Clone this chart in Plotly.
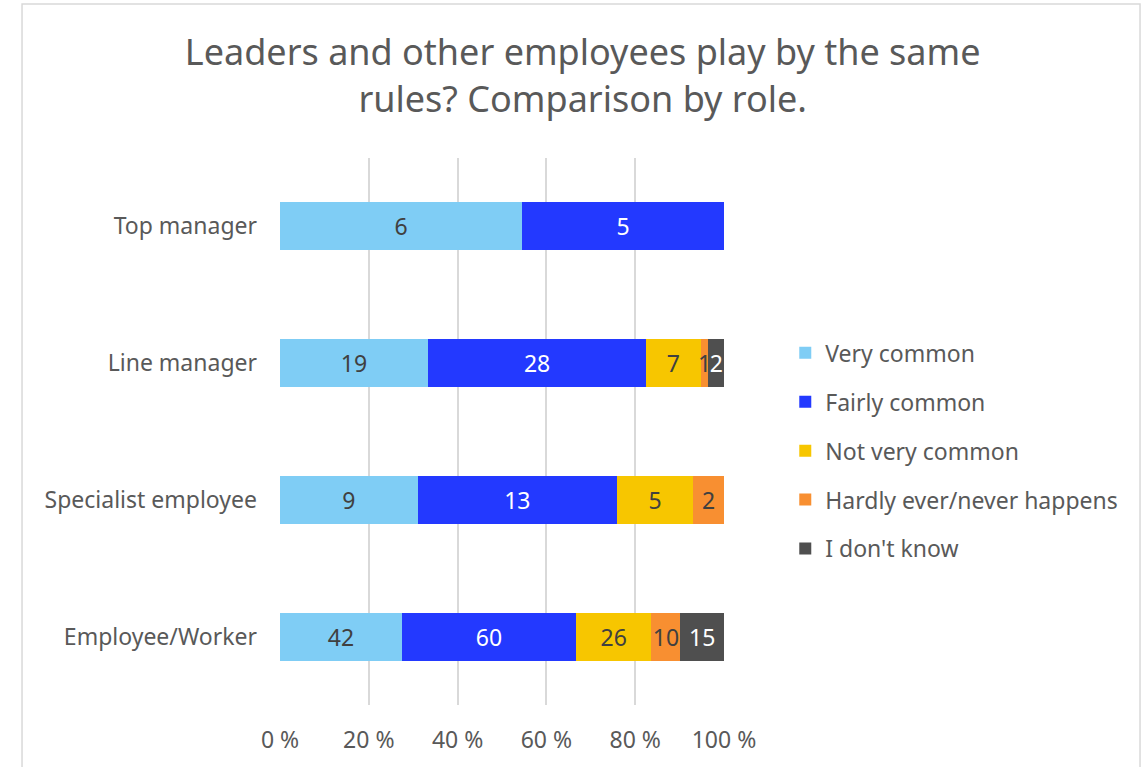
import plotly.graph_objects as go

# Roles, top to bottom
roles = ["Top manager", "Line manager", "Specialist employee", "Employee/Worker"]

# Response counts per role (None = no responses in that category)
very_common = [6, 19, 9, 42]
fairly_common = [5, 28, 13, 60]
not_very_common = [None, 7, 5, 26]
hardly_ever = [None, 1, 2, 10]
dont_know = [None, 2, None, 15]

series = [
    ("Very common", very_common, "#7FCDF5", "#404040"),
    ("Fairly common", fairly_common, "#2339FF", "#FFFFFF"),
    ("Not very common", not_very_common, "#F7C600", "#404040"),
    ("Hardly ever/never happens", hardly_ever, "#F88F31", "#404040"),
    ("I don't know", dont_know, "#4F4F4F", "#FFFFFF"),
]

tick_vals = [0, 20, 40, 60, 80, 100]
tick_text = ["0 %", "20 %", "40 %", "60 %", "80 %", "100 %"]

FONT = "'Noto Sans', Lato, sans-serif"
TEXT_COLOR = "#595959"

fig = go.Figure()
for i, (name, vals, color, label_color) in enumerate(series):
    fig.add_trace(go.Bar(
        y=roles,
        x=vals,
        name=name,
        orientation="h",
        marker=dict(color=color, line=dict(width=0)),
        text=[str(v) if v is not None else "" for v in vals],
        textposition="inside",
        insidetextanchor="middle",
        textangle=0,
        textfont=dict(color=label_color, size=23, family=FONT),
        legendgroup=f"g{i}",
        hoverinfo="skip",
    ))

fig.update_layout(
    width=1147,
    height=767,
    barmode="stack",
    barnorm="percent",
    bargap=0.65,
    paper_bgcolor="white",
    plot_bgcolor="white",
    margin=dict(l=280, r=423, t=158, b=62),
    font=dict(family=FONT, color=TEXT_COLOR, size=23),
    uniformtext=dict(minsize=23, mode="show"),
    title=dict(
        text="Leaders and other employees play by the same<br>rules? Comparison by role.",
        x=0.508,
        xanchor="center",
        y=0.915,
        yanchor="middle",
        font=dict(size=36, color=TEXT_COLOR, family=FONT),
    ),
    legend=dict(
        x=1.138,
        y=0.683,
        xanchor="left",
        yanchor="top",
        font=dict(size=23, color=TEXT_COLOR, family=FONT),
        tracegroupgap=16,
        bgcolor="rgba(0,0,0,0)",
    ),
    xaxis=dict(
        range=[0, 100],
        tickvals=tick_vals,
        ticktext=tick_text,
        showgrid=True,
        gridcolor="#D9D9D9",
        gridwidth=1.5,
        zeroline=False,
        showline=False,
        ticks="",
        ticklabelstandoff=19,
        tickfont=dict(size=23, color=TEXT_COLOR, family=FONT),
    ),
    yaxis=dict(
        autorange="reversed",
        showgrid=False,
        zeroline=False,
        showline=False,
        ticks="",
        ticklabelstandoff=22,
        tickfont=dict(size=23, color=TEXT_COLOR, family=FONT),
    ),
    shapes=[
        dict(
            type="rect", xref="paper", yref="paper",
            x0=-0.581, x1=1.937, y0=-0.2, y1=1.2815,
            line=dict(color="#D9D9D9", width=1.5),
            fillcolor="rgba(0,0,0,0)", layer="below",
        )
    ],
)

fig.write_html("out.html")
